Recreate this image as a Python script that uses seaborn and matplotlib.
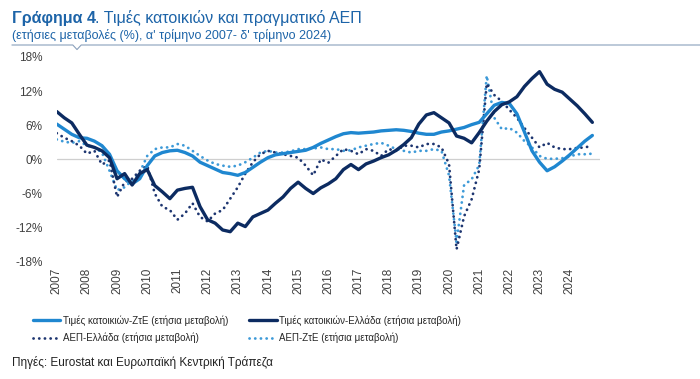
"""Τιμές κατοικιών και πραγματικό ΑΕΠ, Ελλάδα και ΖτΕ (2007-2024)."""

import matplotlib
matplotlib.use("Agg")
import matplotlib.pyplot as plt
import numpy as np
import pandas as pd
import seaborn as sns
from matplotlib.lines import Line2D

years = list(range(2007, 2025))
quarters = 2007 + np.arange(72) / 4

hp_ea = [
    6.2, 5.3, 4.4, 3.8, 3.7, 3.2, 2.4, 0.9, -2.0, -3.4, -4.3, -3.4,
    -1.1, 0.6, 1.2, 1.5, 1.6, 1.2, 0.6, -0.5, -1.1, -1.7, -2.3, -2.5,
    -2.8, -2.3, -1.4, -0.5, 0.3, 0.8, 1.0, 1.2, 1.4, 1.6, 2.1, 2.8,
    3.4, 4.0, 4.5, 4.7, 4.6, 4.7, 4.8, 5.0, 5.1, 5.2, 5.1, 4.9,
    4.6, 4.4, 4.4, 4.8, 5.0, 5.3, 5.6, 6.1, 6.5, 8.0, 9.5, 10.0,
    9.8, 8.0, 4.8, 1.5, -0.5, -2.0, -1.3, -0.3, 0.8, 2.0, 3.2, 4.2,
]
hp_gr = [
    8.4, 7.3, 6.4, 4.4, 2.5, 2.1, 1.5, 0.3, -3.4, -2.5, -4.5, -2.5,
    -1.8, -4.6, -5.7, -6.9, -5.4, -5.1, -4.9, -8.3, -10.6, -11.2, -12.4, -12.7,
    -11.2, -11.8, -10.1, -9.5, -8.9, -7.7, -6.6, -5.1, -4.0, -5.1, -6.0, -5.0,
    -4.3, -3.4, -1.8, -0.9, -1.8, -0.8, -0.3, 0.3, 0.8, 1.6, 2.6, 3.8,
    6.2, 7.8, 8.2, 7.3, 6.4, 4.1, 3.7, 2.9, 4.7, 6.7, 8.4, 9.6,
    10.1, 11.0, 12.8, 14.2, 15.4, 13.2, 12.3, 11.8, 10.6, 9.4, 8.0, 6.5,
]
gdp_gr = [
    4.6, 3.8, 3.2, 2.4, 1.0, 1.5, -0.9, -0.2, -6.6, -4.0, -3.4, -2.0,
    -1.1, -6.0, -8.3, -8.9, -10.6, -9.5, -7.7, -10.1, -10.9, -9.5, -8.9, -6.9,
    -4.9, -2.5, -0.5, 0.9, 1.5, 1.2, 0.9, 0.6, 0.3, -1.1, -2.8, 0.0,
    -0.6, 0.6, 1.8, 1.5, 0.9, 1.8, 1.5, 0.6, 1.8, 1.5, 2.4, 2.4,
    2.1, 2.7, 2.7, 2.1, -0.8, -15.8, -10.0, -7.0, -1.8, 13.3, 11.3, 10.2,
    8.7, 7.3, 5.5, 3.8, 2.1, 2.9, 2.1, 1.8, 1.8, 2.0, 2.1, 2.4,
]
gdp_ea = [
    3.5, 3.1, 2.9, 3.2, 2.4, 2.1, 1.2, -2.0, -5.4, -4.9, -3.7, -2.3,
    0.6, 1.8, 2.1, 2.1, 2.7, 2.4, 1.5, 0.6, -0.2, -0.8, -1.1, -1.3,
    -1.1, -0.5, 0.3, 1.2, 1.5, 1.2, 1.2, 1.4, 1.8, 1.8, 1.9, 2.1,
    1.8, 1.8, 1.5, 1.6, 2.1, 2.4, 2.7, 2.9, 2.4, 1.8, 1.5, 1.2,
    1.5, 1.5, 1.8, 1.5, -2.8, -14.5, -4.5, -3.5, -1.0, 14.7, 7.3, 5.3,
    5.5, 4.7, 3.2, 2.1, 0.6, 0.1, 0.1, 0.2, 0.5, 0.9, 0.9, 1.0,
]

labels = [
    "Τιμές κατοικιών-ΖτΕ (ετήσια μεταβολή)",
    "Τιμές κατοικιών-Ελλάδα (ετήσια μεταβολή)",
    "ΑΕΠ-Ελλάδα (ετήσια μεταβολή)",
    "ΑΕΠ-ΖτΕ (ετήσια μεταβολή)",
]
y_ticks = [-18, -12, -6, 0, 6, 12, 18]

MID = "#1f87d0"
NAVY = "#0c2b61"
DNAVY = "#1d3570"
LIGHT = "#3d9ad8"
TITLE_BLUE = "#1d64a8"

sns.set_theme(style="white")
plt.rcParams["font.family"] = ["Liberation Sans", "DejaVu Sans"]

fig = plt.figure(figsize=(7, 3.79), dpi=100)
ax = fig.add_axes([0.081, 0.309, 0.776, 0.541])

df = pd.DataFrame({"t": quarters, "hp_ea": hp_ea, "hp_gr": hp_gr,
                   "gdp_gr": gdp_gr, "gdp_ea": gdp_ea})

ax.axhline(0, color="#cfcfcf", lw=0.9, zorder=0)

dot = (0, (0.05, 2.0))
sns.lineplot(data=df, x="t", y="gdp_ea", ax=ax, color=LIGHT, lw=2.0,
             linestyle=dot, dash_capstyle="round")
sns.lineplot(data=df, x="t", y="gdp_gr", ax=ax, color=DNAVY, lw=2.0,
             linestyle=dot, dash_capstyle="round")
sns.lineplot(data=df, x="t", y="hp_ea", ax=ax, color=MID, lw=2.4)
sns.lineplot(data=df, x="t", y="hp_gr", ax=ax, color=NAVY, lw=2.4)

ax.set_xlim(2007, 2025)
ax.set_ylim(-18, 18)
ax.set_xticks(years)
ax.set_xticklabels([str(y) for y in years], rotation=90, fontsize=8.5,
                   color="#404040")
ax.set_yticks(y_ticks)
ax.set_yticklabels([f"{v}%" for v in y_ticks], fontsize=8.5, color="#404040")
ax.tick_params(axis="x", length=0, pad=4)
ax.tick_params(axis="y", length=0, pad=10)
ax.set_xlabel("")
ax.set_ylabel("")
sns.despine(ax=ax, left=True, bottom=True)
ax.grid(False)

# title block
fig.text(0.017, 0.94, "Γράφημα 4", fontsize=11.5, fontweight="bold",
         color=TITLE_BLUE, va="baseline")
fig.text(0.136, 0.94, ". Τιμές κατοικιών και πραγματικό ΑΕΠ", fontsize=11.5,
         color=TITLE_BLUE, va="baseline")
fig.text(0.017, 0.923, "(ετήσιες μεταβολές (%), α' τρίμηνο 2007- δ' τρίμηνο 2024)",
         fontsize=9, color=TITLE_BLUE, va="top")
yl = 1 - 45 / 379
fig.add_artist(Line2D([0.017, 0.104, 0.11, 0.116, 1.0],
                      [yl, yl, yl - 0.012, yl, yl],
                      transform=fig.transFigure, color="#8aa0bb", lw=0.8))

# legend
handles = [
    Line2D([], [], color=MID, lw=2.4),
    Line2D([], [], color=DNAVY, lw=2.0, linestyle=dot, dash_capstyle="round"),
    Line2D([], [], color=NAVY, lw=2.4),
    Line2D([], [], color=LIGHT, lw=2.0, linestyle=dot, dash_capstyle="round"),
]
leg_labels = [labels[0], labels[2], labels[1], labels[3]]
fig.legend(handles, leg_labels, loc="upper left", bbox_to_anchor=(0.047, 0.168),
           ncol=2, frameon=False, fontsize=7.0,
           handlelength=2.8, handletextpad=0.25, columnspacing=2.2,
           labelspacing=0.7, borderaxespad=0, borderpad=0)

fig.text(0.017, 0.033, "Πηγές: Eurostat και Ευρωπαϊκή Κεντρική Τράπεζα",
         fontsize=8.5, color="#222222")

fig.savefig("out.png", dpi=100)
